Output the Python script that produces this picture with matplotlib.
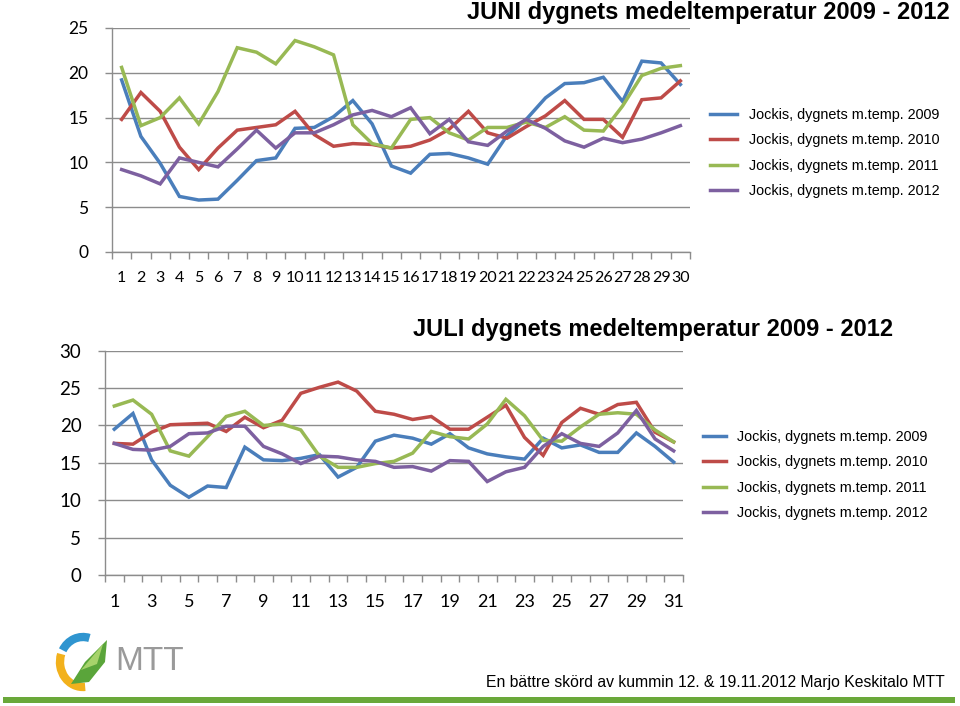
import numpy as np
import matplotlib
matplotlib.use("Agg")
import matplotlib.pyplot as plt
from matplotlib.patches import Rectangle, Arc, Polygon

# June daily mean temperatures, days 1-30
juni_days = list(range(1, 31))
juni_2009 = [19.2, 12.9, 9.9, 6.2, 5.8, 5.9, 8.0, 10.2, 10.5, 13.8, 13.9, 15.1, 16.9, 14.3, 9.6,
             8.8, 10.9, 11.0, 10.5, 9.8, 13.0, 14.8, 17.2, 18.8, 18.9, 19.5, 16.8, 21.3, 21.1, 18.7]
juni_2010 = [14.8, 17.8, 15.7, 11.7, 9.2, 11.6, 13.6, 13.9, 14.2, 15.7, 13.1, 11.8, 12.1, 12.0, 11.6,
             11.8, 12.5, 13.7, 15.7, 13.3, 12.7, 14.0, 15.2, 16.9, 14.8, 14.8, 12.8, 17.0, 17.2, 19.1]
juni_2011 = [20.6, 14.1, 15.0, 17.2, 14.3, 17.9, 22.8, 22.3, 21.0, 23.6, 22.9, 22.0, 14.2, 12.1, 11.6,
             14.8, 15.0, 13.3, 12.5, 13.9, 13.9, 14.5, 13.9, 15.1, 13.6, 13.5, 16.3, 19.7, 20.5, 20.8]
juni_2012 = [9.2, 8.5, 7.6, 10.5, 10.0, 9.5, 11.5, 13.6, 11.6, 13.3, 13.3, 14.2, 15.3, 15.8, 15.1,
             16.1, 13.2, 14.8, 12.3, 11.9, 13.5, 14.8, 13.8, 12.4, 11.7, 12.7, 12.2, 12.6, 13.3, 14.1]

# July daily mean temperatures, days 1-31
juli_days = list(range(1, 32))
juli_2009 = [19.5, 21.6, 15.4, 12.0, 10.4, 11.9, 11.7, 17.1, 15.4, 15.3, 15.6, 16.1, 13.1, 14.4, 17.9, 18.7,
             18.3, 17.5, 18.9, 17.0, 16.2, 15.8, 15.5, 18.3, 17.0, 17.4, 16.4, 16.4, 19.0, 17.2, 15.1]
juli_2010 = [17.6, 17.5, 19.1, 20.1, 20.2, 20.3, 19.2, 21.1, 19.7, 20.7, 24.3, 25.1, 25.8, 24.6, 21.9, 21.5,
             20.8, 21.2, 19.5, 19.5, 21.1, 22.7, 18.4, 16.0, 20.4, 22.3, 21.5, 22.8, 23.1, 19.1, 17.8]
juli_2011 = [22.6, 23.4, 21.5, 16.6, 15.9, 18.5, 21.2, 21.9, 20.0, 20.2, 19.4, 15.9, 14.4, 14.4, 14.9, 15.2,
             16.3, 19.2, 18.5, 18.2, 20.2, 23.5, 21.3, 18.0, 17.9, 19.8, 21.5, 21.7, 21.5, 19.4, 17.8]
juli_2012 = [17.6, 16.8, 16.7, 17.2, 18.9, 19.0, 19.9, 19.9, 17.2, 16.2, 14.9, 15.9, 15.8, 15.4, 15.2, 14.4,
             14.5, 13.9, 15.3, 15.2, 12.5, 13.8, 14.4, 17.2, 18.9, 17.6, 17.2, 19.0, 22.0, 18.2, 16.6]

labels = ["Jockis, dygnets m.temp. 2009", "Jockis, dygnets m.temp. 2010",
          "Jockis, dygnets m.temp. 2011", "Jockis, dygnets m.temp. 2012"]
colors = ["#4a7ebb", "#be4b48", "#98b954", "#7d60a0"]
gray = "#8c8c8c"
tickfont = "Lato"

W, H = 960, 706
fig = plt.figure(figsize=(W/100, H/100), dpi=100)

def frac(x0, y_top, x1, y_bot):
    return [x0/W, 1 - y_bot/H, (x1-x0)/W, (y_bot-y_top)/H]

def style_axes(ax, ndays, ymax, xlabels_step, yfs, xfs):
    ax.set_xlim(0.5, ndays + 0.5)
    ax.set_ylim(0, ymax)
    ax.set_yticks(np.arange(0, ymax + 1, 5))
    ax.grid(axis="y", color=gray, lw=1.0)
    ax.set_axisbelow(True)
    for s in ["top", "right"]:
        ax.spines[s].set_visible(False)
    for s in ["left", "bottom"]:
        ax.spines[s].set_color(gray)
        ax.spines[s].set_linewidth(1.0)
    ax.set_xticks(np.arange(1, ndays + 1, xlabels_step))
    ax.set_xticks(np.arange(0.5, ndays + 1), minor=True)
    ax.tick_params(axis="x", which="major", length=0, pad=14, labelsize=xfs)
    ax.tick_params(axis="x", which="minor", length=5, color=gray, width=1)
    ax.tick_params(axis="y", length=5, color=gray, width=1, pad=12, labelsize=yfs)
    for t in ax.get_xticklabels() + ax.get_yticklabels():
        t.set_fontfamily(tickfont)

# ---- JUNI ----
ax1 = fig.add_axes(frac(112, 28, 690, 252))
for ys, c, lab in zip([juni_2009, juni_2010, juni_2011, juni_2012], colors, labels):
    ax1.plot(juni_days, ys, color=c, lw=2.5, label=lab, solid_joinstyle="miter")
style_axes(ax1, 30, 25, 1, 12.5, 11.5)
ax1.legend(loc="center left", bbox_to_anchor=(710/W, 1 - 153/H), bbox_transform=fig.transFigure,
           frameon=False, prop={"family": "Liberation Sans", "size": 10.4},
           handlelength=1.9, handletextpad=0.8, labelspacing=0.8, borderpad=0, borderaxespad=0)
fig.text(467/W, 1 - 12/H, "JUNI dygnets medeltemperatur 2009 - 2012", ha="left", va="center",
         fontsize=17, fontweight="bold", family="Liberation Sans")

# ---- JULI ----
ax2 = fig.add_axes(frac(105, 350.7, 683, 575))
for ys, c, lab in zip([juli_2009, juli_2010, juli_2011, juli_2012], colors, labels):
    ax2.plot(juli_days, ys, color=c, lw=2.5, label=lab, solid_joinstyle="miter")
style_axes(ax2, 31, 30, 2, 13.5, 13)
ax2.legend(loc="center left", bbox_to_anchor=(703/W, 1 - 475/H), bbox_transform=fig.transFigure,
           frameon=False, prop={"family": "Liberation Sans", "size": 10.4},
           handlelength=1.6, handletextpad=0.75, labelspacing=0.78, borderpad=0, borderaxespad=0)
fig.text(413/W, 1 - 329/H, "JULI dygnets medeltemperatur 2009 - 2012", ha="left", va="center",
         fontsize=17, fontweight="bold", family="Liberation Sans")

# ---- footer ----
fig.text(945/W, 1 - 682/H, "En bättre skörd av kummin 12. & 19.11.2012 Marjo Keskitalo MTT",
         ha="right", va="center", fontsize=11.3, family="Liberation Sans")
fig.patches.append(Rectangle((3/W, 3/H), 952/W, 6/H, transform=fig.transFigure,
                             facecolor="#6aa83a", edgecolor="none"))

# simple MTT logo
lg = fig.add_axes(frac(45, 628, 195, 692))
lg.set_xlim(0, 150)
lg.set_ylim(0, 64)
lg.set_aspect("equal")
lg.axis("off")
lg.add_patch(Arc((38, 30), 46, 50, theta1=75, theta2=150, color="#2f95d0", lw=6))
lg.add_patch(Arc((38, 30), 46, 50, theta1=160, theta2=275, color="#f2b11c", lw=6))
lg.add_patch(Polygon([(26, 8), (40, 30), (62, 52), (60, 30), (44, 10)], closed=True,
                     facecolor="#5aa53a", edgecolor="none"))
lg.add_patch(Polygon([(36, 22), (58, 48), (52, 28)], closed=True, facecolor="#a7d36b", edgecolor="none"))
lg.text(70, 30, "MTT", fontsize=24, color="#9a9a9a", family="Liberation Sans",
        va="center", ha="left")

fig.savefig("out.png", dpi=100)
